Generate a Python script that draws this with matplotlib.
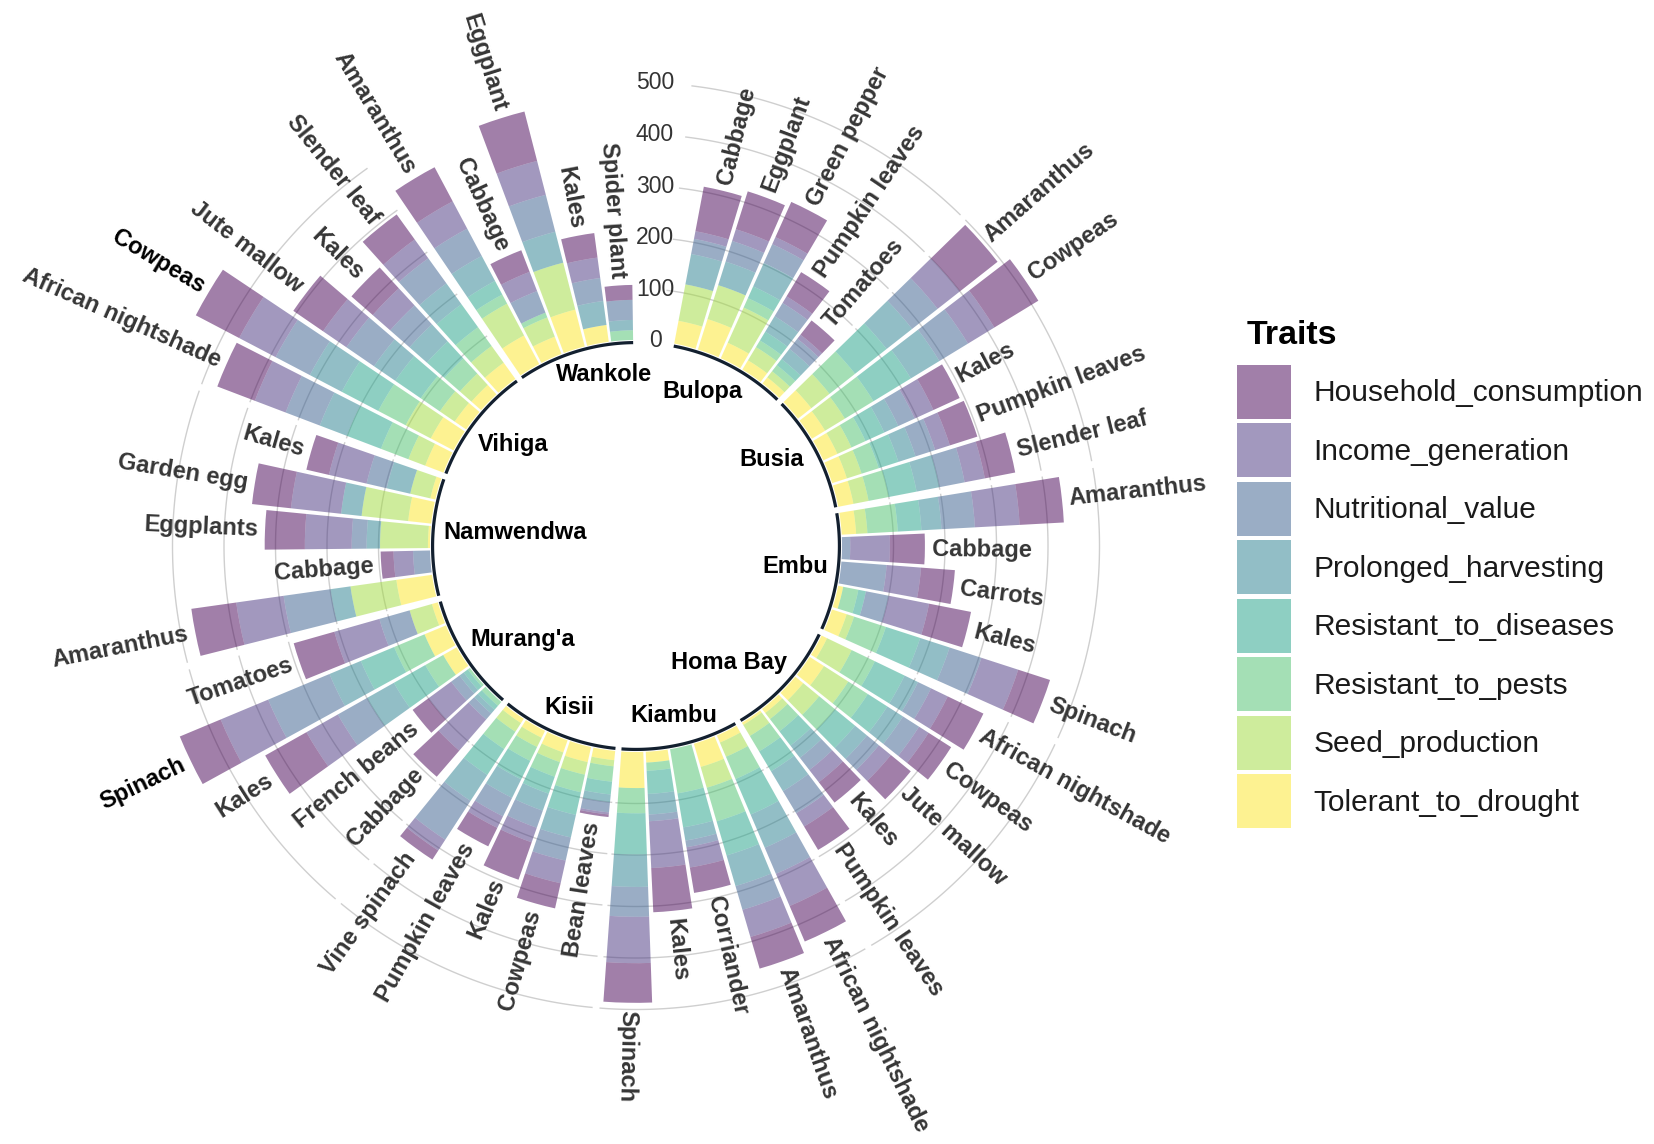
import numpy as np
import matplotlib
matplotlib.use('Agg')
import matplotlib.pyplot as plt
from matplotlib.transforms import offset_copy

plt.rcParams['font.family'] = ['Liberation Sans', 'DejaVu Sans']

# ---- data -------------------------------------------------------------
regions = ['Bulopa', 'Busia', 'Embu', 'Homa Bay', 'Kiambu', 'Kisii',
           "Murang'a", 'Namwendwa', 'Vihiga', 'Wankole']

crops = [
    'Cabbage', 'Eggplant', 'Green pepper', 'Pumpkin leaves', 'Tomatoes',            # Bulopa
    'Amaranthus', 'Cowpeas', 'Kales', 'Pumpkin leaves', 'Slender leaf',             # Busia
    'Amaranthus', 'Cabbage', 'Carrots', 'Kales', 'Spinach',                         # Embu
    'African nightshade', 'Cowpeas', 'Jute mallow', 'Kales', 'Pumpkin leaves',      # Homa Bay
    'African nightshade', 'Amaranthus', 'Corriander', 'Kales', 'Spinach',           # Kiambu
    'Bean leaves', 'Cowpeas', 'Kales', 'Pumpkin leaves', 'Vine spinach',            # Kisii
    'Cabbage', 'French beans', 'Kales', 'Spinach', 'Tomatoes',                      # Murang'a
    'Amaranthus', 'Cabbage', 'Eggplants', 'Garden egg', 'Kales',                    # Namwendwa
    'African nightshade', 'Cowpeas', 'Jute mallow', 'Kales', 'Slender leaf',        # Vihiga
    'Amaranthus', 'Cabbage', 'Eggplant', 'Kales', 'Spider plant',                   # Wankole
]
crop_region = [r for r in regions for _ in range(5)]

traits = ['Household_consumption', 'Income_generation', 'Nutritional_value',
          'Prolonged_harvesting', 'Resistant_to_diseases', 'Resistant_to_pests',
          'Seed_production', 'Tolerant_to_drought']

household_consumption = [88, 77, 75, 55, 35,   93, 100, 56, 56, 60,   86, 68, 66, 83, 65,
                         77, 52, 50, 50, 53,   75, 64, 50, 86, 77,    5, 50, 77, 40, 21,
                         67, 38, 92, 86, 82,   88, 25, 78, 76, 45,   78, 95, 70, 55, 60,
                         75, 45, 99, 48, 29]
income_generation = [15, 24, 15, 15, 10,   55, 60, 40, 30, 40,   87, 77, 67, 80, 75,
                     36, 22, 30, 30, 30,   68, 55, 40, 91, 90,    4, 45, 30, 25, 25,
                     80, 55, 70, 100, 91,  93, 38, 91, 98, 75,   64, 80, 55, 45, 45,
                     60, 40, 68, 40, 0]
nutritional_value = [30, 42, 40, 30, 25,   63, 65, 35, 40, 50,   65, 16, 88, 45, 65,
                     28, 37, 30, 30, 50,   55, 48, 13, 13, 58,   20, 46, 35, 40, 90,
                     15, 20, 65, 129, 61,  92, 33, 29, 0, 40,    71, 75, 65, 50, 60,
                     60, 45, 74, 45, 39]
prolonged_harvesting = [60, 48, 50, 35, 25,   63, 65, 30, 35, 45,   39, 0, 0, 0, 60,
                        29, 36, 30, 30, 45,   70, 62, 26, 40, 63,   15, 45, 35, 40, 60,
                        10, 10, 60, 66, 0,    39, 0, 26, 40, 47,    56, 70, 50, 45, 50,
                        55, 0, 62, 47, 20]
resistant_to_diseases = [0, 0, 25, 20, 15,   78, 85, 40, 40, 55,   46, 0, 0, 15, 70,
                         64, 45, 50, 35, 45,   75, 69, 67, 45, 80,   25, 45, 35, 40, 60,
                         10, 10, 70, 70, 0,    0, 0, 0, 0, 0,        71, 80, 60, 45, 55,
                         30, 0, 0, 0, 0]
resistant_to_pests = [0, 0, 20, 15, 15,   63, 65, 30, 35, 40,   59, 0, 0, 30, 65,
                      50, 45, 40, 30, 35,   47, 68, 87, 16, 49,   30, 35, 30, 30, 40,
                      10, 5, 40, 64, 0,     0, 0, 0, 0, 0,        57, 60, 45, 40, 45,
                      20, 10, 0, 0, 19]
seed_production = [72, 69, 75, 30, 15,   45, 45, 30, 30, 30,   22, 0, 0, 0, 15,
                   53, 56, 40, 15, 25,   30, 42, 0, 0, 0,      12, 25, 20, 20, 20,
                   0, 0, 0, 0, 45,       90, 0, 93, 91, 40,    35, 55, 35, 30, 40,
                   70, 40, 94, 0, 0]
tolerant_to_drought = [45, 62, 33, 21, 15,   33, 30, 30, 30, 30,   28, 0, 0, 10, 30,
                       12, 33, 20, 10, 5,    15, 47, 0, 21, 70,    18, 30, 25, 15, 10,
                       0, 0, 30, 45, 12,     70, 0, 4, 45, 10,     38, 50, 27, 25, 39,
                       63, 36, 74, 33, 0]

scale_ticks = [0, 100, 200, 300, 400, 500]

# ---- style / layout ---------------------------------------------------
trait_values = [household_consumption, income_generation, nutritional_value,
                prolonged_harvesting, resistant_to_diseases, resistant_to_pests,
                seed_production, tolerant_to_drought]
trait_colors = ['#440154', '#46337E', '#365C8D', '#277F8E',
                '#1FA187', '#4AC16D', '#9FDA3A', '#FDE725']
dark_labels = {('Vihiga', 'Cowpeas'), ("Murang'a", 'Spinach')}
# small angular nudges (degrees) for the region names inside the hole
label_nudge = {'Wankole': 7, 'Bulopa': -4, 'Busia': -5, 'Homa Bay': 9,
               "Murang'a": -7, 'Namwendwa': 4, 'Vihiga': 2}
no_grid = {'Wankole'}

n = len(crops)
grp = np.array([regions.index(r) for r in crop_region])
slot = 2 * np.pi / 52.94
pos = np.arange(n) + 0.15 * grp
theta = np.deg2rad(13.75) + slot * pos


def main():
    fig = plt.figure(figsize=(16.54, 11.44), dpi=100)
    ax = fig.add_axes([121 / 1654, 83 / 1144, 1030 / 1654, 1030 / 1144],
                      projection='polar')
    ax.set_theta_zero_location('N')
    ax.set_theta_direction(-1)
    ax.set_ylim(-400, 600)
    ax.axis('off')

    # per-group grid arcs and black baselines
    for g, reg in enumerate(regions):
        idx = np.where(grp == g)[0]
        if reg not in no_grid:
            t0 = theta[idx[0]] - (1.0 if g == 0 else 0.5) * slot
            t1 = theta[idx[-1]] + 0.5 * slot
            tt = np.linspace(t0, t1, 80)
            for v in scale_ticks[1:]:
                ax.plot(tt, np.full_like(tt, v), color='#cfcfcf', lw=1.0, zorder=1)
        tb = np.linspace(theta[idx[0]] - 0.45 * slot, theta[idx[-1]] + 0.45 * slot, 80)
        ax.plot(tb, np.full_like(tb, -5), color='#13202f', lw=2.3,
                solid_capstyle='butt', zorder=3)

    # stacked bars, drought innermost
    handles = {}
    bottom = np.zeros(n)
    for name, vals, col in reversed(list(zip(traits, trait_values, trait_colors))):
        vals = np.array(vals, dtype=float)
        bc = ax.bar(theta, vals, width=0.9 * slot, bottom=bottom, color=col,
                    alpha=0.5, linewidth=0, zorder=2, label=name)
        handles[name] = bc
        bottom += vals
    totals = bottom

    # radial scale, kept on a vertical line just right of north
    for v in scale_ticks:
        th = np.arcsin(36.9 / (v + 400))
        ax.text(th, v, str(v), ha='center', va='center',
                fontsize=16.5, color='#333333')

    # crop labels
    for i in range(n):
        deg = np.degrees(theta[i]) % 360
        if deg < 185:
            rot, ha = 90 - deg, 'left'
        else:
            rot, ha = 270 - deg, 'right'
        col = '#000000' if (crop_region[i], crops[i]) in dark_labels else '#363636'
        ax.text(theta[i], totals[i] + 14, crops[i], rotation=rot,
                rotation_mode='anchor', ha=ha, va='center', fontsize=17,
                fontweight='bold', color=col, clip_on=False)

    # group labels inside the hole
    glabels = []
    for g, reg in enumerate(regions):
        idx = np.where(grp == g)[0]
        mid = (theta[idx[0]] + theta[idx[-1]]) / 2 + np.deg2rad(label_nudge.get(reg, 0))
        t = ax.text(mid, -5, reg, ha='center', va='center', fontsize=17,
                    fontweight='bold', color='black')
        glabels.append((t, mid))
    fig.canvas.draw()
    renderer = fig.canvas.get_renderer()
    for t, mid in glabels:
        bb = t.get_window_extent(renderer)
        s, c = np.sin(mid), np.cos(mid)
        off = 9 + abs(s) * bb.width / 2 + abs(c) * bb.height / 2
        t.set_transform(offset_copy(ax.transData, fig=fig, x=-off * s,
                                    y=-off * c, units='dots'))

    # legend
    fig.text(1247 / 1654, 1 - 335 / 1144, 'Traits', fontsize=24.5,
             fontweight='bold', ha='left', va='center')
    fig.legend([handles[t] for t in traits], traits, loc='upper left',
               bbox_to_anchor=(1237 / 1654, 1 - 365 / 1144), frameon=False,
               fontsize=21.5, handlelength=1.81, handleheight=2.405,
               labelspacing=0.15, handletextpad=0.74, borderpad=0,
               borderaxespad=0, labelcolor='#1a1a1a')

    fig.savefig('out.png', dpi=100, facecolor='white')
    plt.close(fig)


if __name__ == '__main__':
    main()
